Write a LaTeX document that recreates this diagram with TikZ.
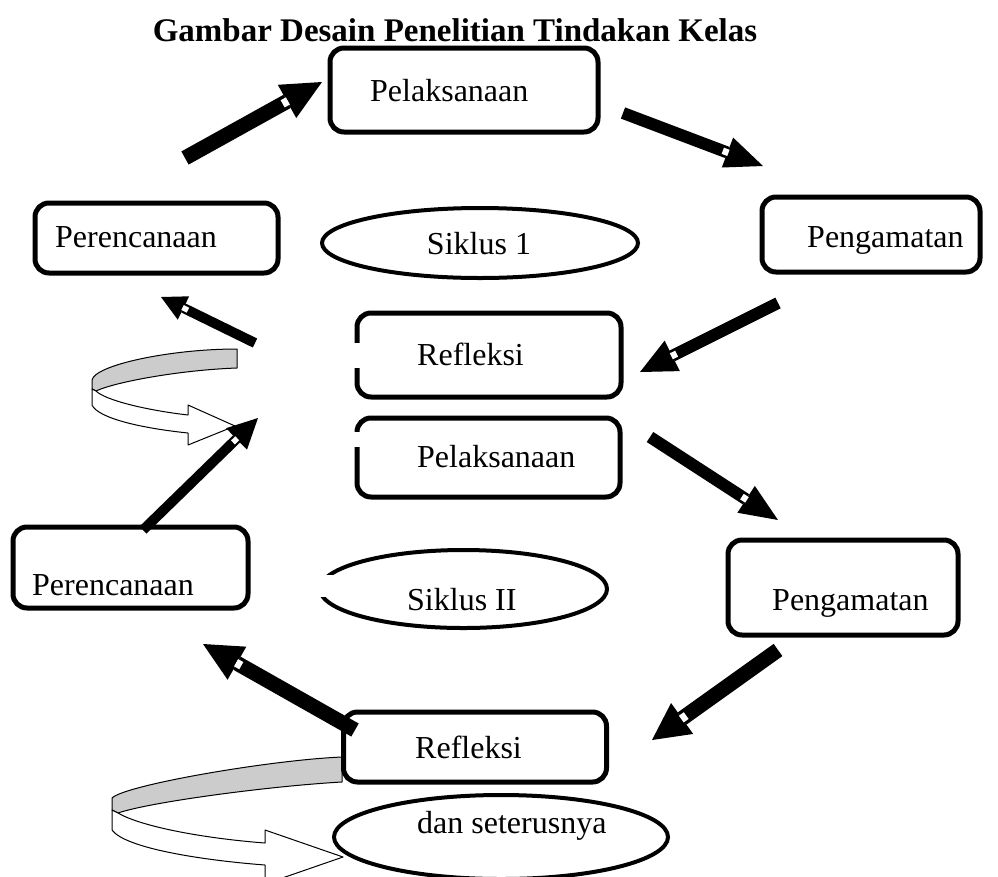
\documentclass[tikz,border=0pt]{standalone}
\usepackage{fontspec}
\setmainfont{Liberation Serif}
\usetikzlibrary{calc,shapes.geometric}
% #1 tail, #2 tip, #3 shaft width, #4 head length, #5 half head width
\newcommand\blkarrow[5]{%
  \coordinate (hb) at ($(#2)!#4!(#1)$);
  \draw[line width=#3, line cap=butt] (#1) -- (hb);
  \fill ($(hb)!#5!90:(#2)$) -- (#2) -- ($(hb)!#5!-90:(#2)$) -- cycle;
  \draw[white, line width=0.55*#3, line cap=butt] ($(hb)!-1pt!(#1)$) -- ($(hb)!5pt!(#1)$);
}
\begin{document}
\begin{tikzpicture}[x=1pt,y=-1pt,
  box/.style={draw, line width=5pt, rounded corners=14pt, inner sep=0pt, rectangle},
  oval/.style={draw, ellipse, line width=4pt, inner sep=0pt},
  lbl/.style={anchor=base west, inner sep=0pt, font=\fontsize{32}{38}\selectfont},
  curl/.style={draw=black, line width=1pt, line join=round}
]
\useasboundingbox (0,0) rectangle (998,876);
\clip (0,0) rectangle (998,876);

% title
\node[anchor=base, inner sep=0pt, font=\bfseries\fontsize{33}{40}\selectfont] (title) at (455,41) {Gambar Desain Penelitian Tindakan Kelas};

% curled arrows (drawn first, under boxes)
\path[curl, fill=gray!40] (237,349) .. controls (170,349) and (95,365) .. (92,380) -- (92,389) -- (96,391) .. controls (115,382) and (180,370) .. (237,368) -- cycle;
\path[curl, fill=white] (96,391) .. controls (105,400) and (145,410) .. (188,415) -- (188,405) -- (235,426) -- (188,445) -- (188,433) .. controls (140,428) and (98,418) .. (92,405) -- (92,389) -- cycle;

\path[curl, fill=gray!40] (342,757) .. controls (270,760) and (125,785) .. (112,798) -- (112,810) -- (118,813) .. controls (150,802) and (270,786) .. (342,782) -- cycle;
\path[curl, fill=white] (118,813) .. controls (140,826) and (200,838) .. (265,843) -- (265,830) -- (343,857) -- (265,884) -- (265,865) .. controls (200,860) and (125,848) .. (112,830) -- (112,810) -- cycle;

% boxes
\node[box, minimum width=268pt, minimum height=84pt] (pel1) at (464,90) {};
\node[box, minimum width=243pt, minimum height=70pt] (per1) at (156.5,238) {};
\node[oval, minimum width=316pt, minimum height=70pt] (sik1) at (480,243) {};
\node[box, minimum width=218pt, minimum height=75pt] (pen1) at (871,234.5) {};
\node[box, minimum width=264pt, minimum height=84pt] (ref1) at (489,355) {};
\node[box, minimum width=263pt, minimum height=79pt] (pel2) at (488.5,457.5) {};
\node[box, minimum width=235pt, minimum height=81pt] (per2) at (130.5,567.5) {};
\node[oval, minimum width=287pt, minimum height=78pt] (sik2) at (463.5,589) {};
\node[box, minimum width=230pt, minimum height=95pt] (pen2) at (843,587.5) {};
\node[box, minimum width=263pt, minimum height=70pt] (ref2) at (475,747) {};
\node[oval, minimum width=334pt, minimum height=84pt] (dan) at (501,837) {};

% gaps in outlines
\fill[white] (350,343) rectangle (364,368);
\fill[white] (350,432) rectangle (364,447);
\fill[white] (312,575) rectangle (333,597);

% labels
\node[lbl] (pel1t) at (370,101) {Pelaksanaan};
\node[lbl] (per1t) at (55,247) {Perencanaan};
\node[lbl, anchor=base] (sik1t) at (479,254) {Siklus 1};
\node[lbl] (pen1t) at (807,247) {Pengamatan};
\node[lbl] (ref1t) at (417,365) {Refleksi};
\node[lbl] (pel2t) at (417,467) {Pelaksanaan};
\node[lbl] (per2t) at (32,595) {Perencanaan};
\node[lbl] (sik2t) at (407,610) {Siklus II};
\node[lbl] (pen2t) at (772,610) {Pengamatan};
\node[lbl] (ref2t) at (415,758) {Refleksi};
\node[lbl] (dant) at (417,833) {dan seterusnya};

% block arrows
\coordinate (a1s) at (185,158); \coordinate (a1e) at (322,82);
\coordinate (a2s) at (623,113); \coordinate (a2e) at (763,166);
\coordinate (a3s) at (778,303); \coordinate (a3e) at (640,372);
\coordinate (a4s) at (255,343); \coordinate (a4e) at (161,297);
\coordinate (a5s) at (143,530); \coordinate (a5e) at (258,418);
\coordinate (a6s) at (650,437); \coordinate (a6e) at (778,520);
\coordinate (a7s) at (778,650); \coordinate (a7e) at (652,740);
\coordinate (a8s) at (355,730); \coordinate (a8e) at (203,644);
\blkarrow{a1s}{a1e}{15pt}{40pt}{19pt}
\blkarrow{a2s}{a2e}{12pt}{38pt}{16pt}
\blkarrow{a3s}{a3e}{12pt}{36pt}{17pt}
\blkarrow{a4s}{a4e}{10pt}{25pt}{13pt}
\blkarrow{a5s}{a5e}{10pt}{30pt}{15pt}
\blkarrow{a6s}{a6e}{12pt}{38pt}{16pt}
\blkarrow{a7s}{a7e}{15pt}{37pt}{19pt}
\blkarrow{a8s}{a8e}{15pt}{39pt}{19pt}
\end{tikzpicture}
\end{document}
